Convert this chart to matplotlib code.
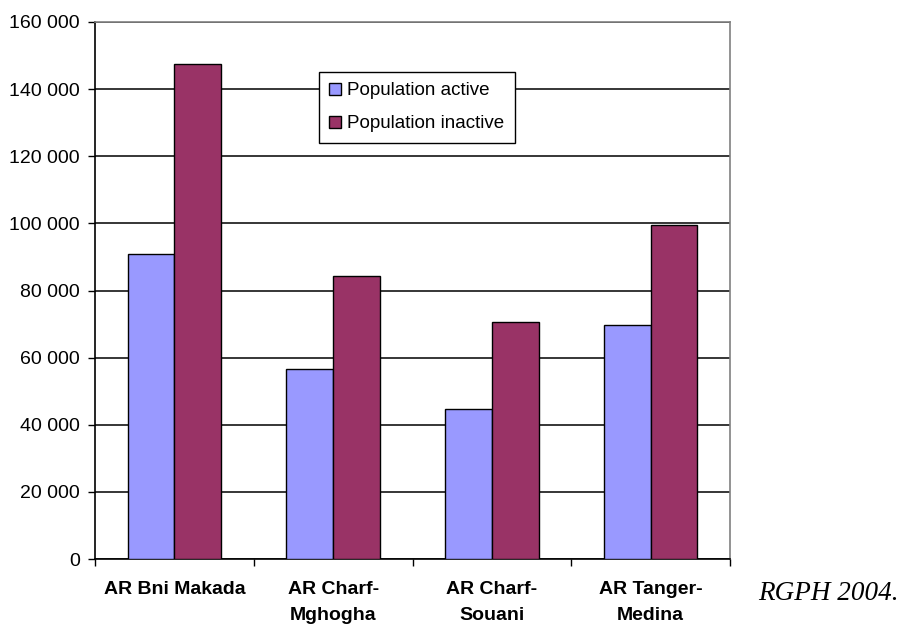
import matplotlib.pyplot as plt
import numpy as np
from matplotlib.ticker import FuncFormatter, FixedLocator

# active / inactive population per arrondissement (RGPH 2004)
districts = ["AR Bni Makada", "AR Charf-\nMghogha", "AR Charf-\nSouani", "AR Tanger-\nMedina"]
pop_active = [91000, 56600, 44700, 69700]
pop_inactive = [147500, 84300, 70600, 99500]
y_ticks = list(range(0, 160001, 20000))

plt.rcParams["font.family"] = ["Liberation Sans", "DejaVu Sans"]

fig = plt.figure(figsize=(9.05, 6.24), dpi=100)
ax = fig.add_axes([95 / 905, 1 - 559 / 624, 635 / 905, 537 / 624])

x = np.arange(len(districts))
w = 0.295
ax.bar(x - w / 2, pop_active, w, color="#9999FF", edgecolor="black", linewidth=1.0,
       label="Population active", zorder=3)
ax.bar(x + w / 2, pop_inactive, w, color="#993366", edgecolor="black", linewidth=1.0,
       label="Population inactive", zorder=3)

ax.set_xlim(-0.5, len(districts) - 0.5)
ax.set_ylim(0, 160000)
ax.set_yticks(y_ticks)
ax.yaxis.set_major_formatter(FuncFormatter(lambda v, p: f"{int(v):,}".replace(",", " ")))
ax.yaxis.grid(True, color="black", linewidth=1.1, zorder=0)

# category labels at centres, tick marks on the boundaries
ax.set_xticks(x)
ax.set_xticklabels(districts, fontweight="bold", fontsize=14, linespacing=1.7)
ax.tick_params(axis="x", which="major", length=0, pad=16)
ax.xaxis.set_minor_locator(FixedLocator(np.arange(-0.5, len(districts), 1.0)))
ax.tick_params(axis="x", which="minor", length=5, width=1.0, direction="out")
ax.tick_params(axis="y", length=5, width=1.0, labelsize=14, pad=6)

for s in ["left", "bottom"]:
    ax.spines[s].set_color("black")
    ax.spines[s].set_linewidth(1.2)
for s in ["top", "right"]:
    ax.spines[s].set_color("#808080")
    ax.spines[s].set_linewidth(1.2)

leg = ax.legend(loc="upper left", bbox_to_anchor=(319 / 905, 1 - 72 / 624),
                bbox_transform=fig.transFigure, borderaxespad=0, fontsize=13.5,
                fancybox=False, framealpha=1, edgecolor="black",
                handlelength=0.6, handleheight=0.6, handletextpad=0.35,
                labelspacing=0.85, borderpad=0.55)
leg.get_frame().set_linewidth(1.0)

fig.text(758 / 905, 1 - 600 / 624, "RGPH 2004.", fontsize=19.5, style="italic",
         family=["Liberation Serif", "DejaVu Serif"], ha="left", va="baseline")

plt.savefig("out.png", dpi=100)
